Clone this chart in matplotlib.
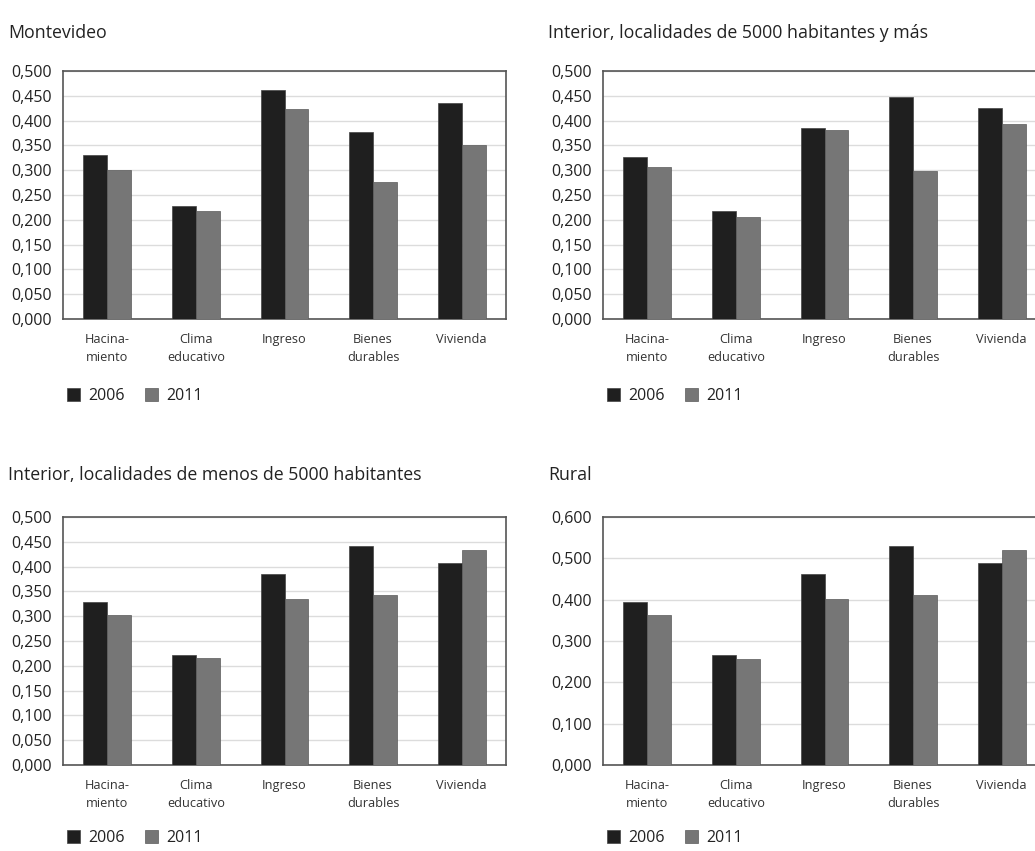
import numpy as np
import matplotlib.pyplot as plt
from matplotlib.ticker import FuncFormatter

plt.rcParams['font.family'] = ['Open Sans', 'DejaVu Sans']

categories = ["Hacina-\nmiento", "Clima\neducativo", "Ingreso", "Bienes\ndurables", "Vivienda"]
years = ["2006", "2011"]

titles = [
    "Montevideo",
    "Interior, localidades de 5000 habitantes y más",
    "Interior, localidades de menos de 5000 habitantes",
    "Rural",
]

montevideo_2006 = [0.330, 0.228, 0.461, 0.378, 0.435]
montevideo_2011 = [0.301, 0.217, 0.424, 0.277, 0.350]

interior_mas_2006 = [0.327, 0.217, 0.385, 0.447, 0.425]
interior_mas_2011 = [0.306, 0.206, 0.382, 0.299, 0.394]

interior_menos_2006 = [0.329, 0.222, 0.385, 0.441, 0.408]
interior_menos_2011 = [0.302, 0.215, 0.335, 0.342, 0.433]

rural_2006 = [0.395, 0.266, 0.463, 0.529, 0.489]
rural_2011 = [0.362, 0.257, 0.401, 0.411, 0.519]

series = [
    (montevideo_2006, montevideo_2011),
    (interior_mas_2006, interior_mas_2011),
    (interior_menos_2006, interior_menos_2011),
    (rural_2006, rural_2011),
]
y_max = [0.5, 0.5, 0.5, 0.6]
y_step = [0.05, 0.05, 0.05, 0.1]

dark = "#1f1f1f"
gray = "#767676"

W, H = 1035, 851
fig = plt.figure(figsize=(W / 100, H / 100), dpi=100)

# axes boxes in pixels: left, top, right, bottom
boxes = [
    (63, 71, 506, 319),
    (603, 71, 1046, 319),
    (63, 517, 506, 765),
    (603, 517, 1046, 765),
]
title_pos = [(8, 33), (548, 33), (8, 475), (548, 475)]
legend_y = [396, 838]

x = np.arange(len(categories))
w = 0.27

for i, (l, t, r, b) in enumerate(boxes):
    ax = fig.add_axes([l / W, 1 - b / H, (r - l) / W, (b - t) / H])
    s06, s11 = series[i]
    b1 = ax.bar(x - w / 2, s06, w, color=dark, edgecolor="#444444", linewidth=0.5, zorder=3, label=years[0])
    b2 = ax.bar(x + w / 2, s11, w, color=gray, edgecolor="#5a5a5a", linewidth=0.5, zorder=3, label=years[1])

    ax.set_xlim(-0.5, len(categories) - 0.5)
    ax.set_ylim(0, y_max[i])
    ax.set_yticks(np.arange(0, y_max[i] + 1e-9, y_step[i]))
    ax.yaxis.set_major_formatter(FuncFormatter(lambda v, p: f"{v:.3f}".replace(".", ",")))
    ax.set_xticks(x)
    ax.set_xticklabels(categories, fontsize=9.2, color="#333333", linespacing=1.55)
    ax.tick_params(axis="both", length=0)
    ax.tick_params(axis="y", labelsize=11.5, pad=8, colors="#222222")
    ax.tick_params(axis="x", pad=10)
    ax.grid(axis="y", color="#dcdcdc", linewidth=1, zorder=0)
    for sp in ax.spines.values():
        sp.set_color("#555555")
        sp.set_linewidth(1.2)

    tx, ty = title_pos[i]
    fig.text(tx / W, 1 - ty / H, titles[i], fontsize=12.8, color="#222222", va="center", ha="left")

    leg_x = (l + 2) / W
    ax.legend(handles=[b1, b2], loc="center left",
              bbox_to_anchor=(leg_x - 0.012, 1 - legend_y[i // 2] / H),
              bbox_transform=fig.transFigure, ncol=2, frameon=False,
              fontsize=11.5, handlelength=0.8, handleheight=0.8,
              handletextpad=0.55, columnspacing=1.25, labelcolor="#222222")

fig.savefig("out.png", dpi=100)
